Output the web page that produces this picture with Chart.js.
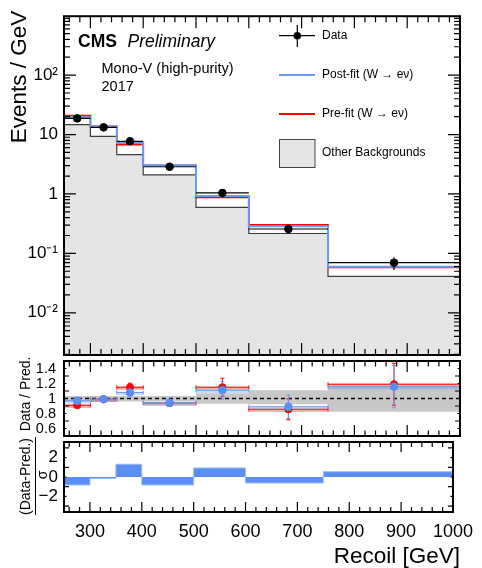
<!DOCTYPE html>
<html lang="en">
<head>
<meta charset="utf-8">
<title>Mono-V recoil (W to e nu control region)</title>
<script src="https://cdn.jsdelivr.net/npm/chart.js@4.4.0/dist/chart.umd.min.js"></script>
<style>
  body { margin: 0; background: #fff; }
  #wrap { position: relative; width: 482px; height: 568px; }
  #wrap canvas { position: absolute; left: 0; top: 0; }
</style>
</head>
<body>
<div id="wrap">
  <canvas id="mainPlot" width="482" height="568"></canvas>
  <canvas id="ratioPlot" width="482" height="568"></canvas>
  <canvas id="pullPlot" width="482" height="568"></canvas>
</div>
<script>
// ---- values ----
const binEdges   = [250, 300, 350, 400, 500, 600, 750, 1000];
const binCenters = [275, 325, 375, 450, 550, 675, 875];

// events / GeV
const dataVals  = [18.7, 13.2, 7.7, 2.87, 1.04, 0.257, 0.0697];
const dataErrUp = [0.6, 0.5, 0.4, 0.17, 0.1, 0.045, 0.016];
const dataErrDn = [0.6, 0.5, 0.4, 0.17, 0.1, 0.045, 0.017];
const postFit   = [19.5, 13.6, 7.2, 3.05, 0.92, 0.285, 0.0598];
const preFit    = [20.8, 13.7, 6.75, 3.05, 0.87, 0.302, 0.0582];
const otherBkg  = [14.7, 9.3, 4.6, 2.1, 0.594, 0.216, 0.041];

// data / prediction
const ratioPre      = [0.91, 0.99, 1.15, 0.94, 1.15, 0.856, 1.19];
const ratioPreErr   = [0.03, 0.03, 0.055, 0.045, 0.12, 0.14, 0.28];
const ratioPost     = [0.97, 0.99, 1.08, 0.944, 1.11, 0.89, 1.157];
const ratioPostErr  = [0.03, 0.03, 0.05, 0.045, 0.115, 0.155, 0.28];
const bandUp        = [1.035, 1.035, 1.035, 1.035, 1.07, 1.11, 1.155];
const bandDn        = [0.96, 0.96, 0.96, 0.96, 0.93, 0.923, 0.825];

// (data - pred) / sigma
const pullVals = [-0.82, -0.15, 1.31, -0.82, 0.93, -0.62, 0.55];

// tick labels
const xMajorTicks  = [300, 400, 500, 600, 700, 800, 900, 1000];
const yMainTicks   = [0.01, 0.1, 1, 10, 100];
const yMainLabels  = ['10\u207B\u00B2', '10\u207B\u00B9', '1', '10', '10\u00B2'];
const yRatioTicks  = [0.6, 0.8, 1, 1.2, 1.4];
const yRatioLabels = ['0.6', '0.8', '1', '1.2', '1.4'];
const yPullTicks   = [-2, 0, 2];
const yPullLabels  = ['\u22122', '0', '2'];

const BLUE = '#6a9bf4';
const BLUE_DARK = '#5b8ef2';
const RED = '#ff0000';
const FONT = "'Liberation Sans', Helvetica, Arial, sans-serif";

Chart.defaults.font.family = FONT;
Chart.defaults.color = '#000';

// histogram as step line: one point per lower edge + closing point
function stepPoints(vals) {
  const pts = vals.map((v, i) => ({ x: binEdges[i], y: v }));
  pts.push({ x: binEdges[binEdges.length - 1], y: vals[vals.length - 1] });
  return pts;
}
function centerPoints(vals) {
  return vals.map((v, i) => ({ x: binCenters[i], y: v }));
}

// tick mark lists [value, length]
function xTickList(major, minor) {
  const list = [];
  for (let v = 260; v < 1000; v += 20) {
    list.push([v, v % 100 === 0 ? major : minor]);
  }
  return list;
}
function logTickList(lo, hi, major, minor) {
  const list = [];
  for (let n = -3; n <= 2; n++) {
    for (let k = 1; k <= 9; k++) {
      const v = k * Math.pow(10, n);
      if (v > lo && v < hi) list.push([v, k === 1 ? major : minor]);
    }
  }
  return list;
}
function linTickList(lo, hi, step, every, major, minor) {
  const list = [];
  const n = Math.round((hi - lo) / step);
  for (let i = 0; i <= n; i++) {
    const v = lo + i * step;
    list.push([v, i % every === 0 ? major : minor]);
  }
  return list;
}

// ---- plugins (ROOT style frame, error bars, text) ----
function frameTicks(xTicks, yTicks) {
  return {
    id: 'frameTicks',
    afterDraw(chart) {
      const ctx = chart.ctx, a = chart.chartArea;
      const xs = chart.scales.x, ys = chart.scales.y;
      ctx.save();
      ctx.strokeStyle = '#000';
      ctx.lineWidth = 1.2;
      ctx.beginPath();
      xTicks.forEach(([v, len]) => {
        const p = xs.getPixelForValue(v);
        ctx.moveTo(p, a.bottom); ctx.lineTo(p, a.bottom - len);
        ctx.moveTo(p, a.top); ctx.lineTo(p, a.top + len);
      });
      yTicks.forEach(([v, len]) => {
        const p = ys.getPixelForValue(v);
        ctx.moveTo(a.left, p); ctx.lineTo(a.left + len, p);
        ctx.moveTo(a.right, p); ctx.lineTo(a.right - len, p);
      });
      ctx.stroke();
      ctx.lineWidth = 2;
      ctx.strokeRect(a.left, a.top, a.right - a.left, a.bottom - a.top);
      ctx.restore();
    }
  };
}

function errorBars(afterIndex, sets) {
  return {
    id: 'errorBars',
    afterDatasetDraw(chart, args) {
      if (args.index !== afterIndex) return;
      const ctx = chart.ctx, a = chart.chartArea;
      const xs = chart.scales.x, ys = chart.scales.y;
      ctx.save();
      ctx.beginPath();
      ctx.rect(a.left, a.top, a.right - a.left, a.bottom - a.top);
      ctx.clip();
      sets.forEach(s => {
        s.vals.forEach((v, i) => {
          const xl = xs.getPixelForValue(binEdges[i]);
          const xr = xs.getPixelForValue(binEdges[i + 1]);
          const xc = xs.getPixelForValue(binCenters[i]);
          const yc = ys.getPixelForValue(v);
          const yt = ys.getPixelForValue(v + s.up[i]);
          const yb = ys.getPixelForValue(v - s.dn[i]);
          if (s.halo) {
            ctx.strokeStyle = s.halo;
            ctx.lineWidth = 3.5;
            ctx.beginPath(); ctx.moveTo(xl, yc + 1); ctx.lineTo(xr, yc + 1); ctx.stroke();
          }
          ctx.strokeStyle = s.color;
          ctx.lineWidth = s.width;
          ctx.beginPath();
          ctx.moveTo(xl, yc); ctx.lineTo(xr, yc);
          ctx.moveTo(xc, yt); ctx.lineTo(xc, yb);
          if (s.cap) {
            ctx.moveTo(xl, yc - s.cap); ctx.lineTo(xl, yc + s.cap);
            ctx.moveTo(xr, yc - s.cap); ctx.lineTo(xr, yc + s.cap);
            ctx.moveTo(xc - s.cap, yt); ctx.lineTo(xc + s.cap, yt);
            ctx.moveTo(xc - s.cap, yb); ctx.lineTo(xc + s.cap, yb);
          }
          ctx.stroke();
        });
      });
      ctx.restore();
    }
  };
}

function textLayer(items, extra) {
  return {
    id: 'textLayer',
    afterDraw(chart) {
      const ctx = chart.ctx;
      items.forEach(t => {
        ctx.save();
        ctx.font = t.font;
        ctx.fillStyle = '#000';
        ctx.textAlign = t.align || 'left';
        ctx.textBaseline = t.baseline || 'alphabetic';
        ctx.translate(t.x, t.y);
        if (t.rotate) ctx.rotate(-Math.PI / 2);
        ctx.fillText(t.text, 0, 0);
        ctx.restore();
      });
      if (extra) extra(ctx);
    }
  };
}

function drawLegend(ctx) {
  ctx.save();
  // data marker with cross
  ctx.strokeStyle = '#000';
  ctx.lineWidth = 1.2;
  ctx.beginPath();
  ctx.moveTo(279, 35.7); ctx.lineTo(315, 35.7);
  ctx.moveTo(297.3, 25); ctx.lineTo(297.3, 47);
  ctx.stroke();
  ctx.fillStyle = '#000';
  ctx.beginPath(); ctx.arc(297.3, 35.7, 3.8, 0, Math.PI * 2); ctx.fill();
  // post-fit
  ctx.strokeStyle = BLUE; ctx.lineWidth = 2;
  ctx.beginPath(); ctx.moveTo(279, 75); ctx.lineTo(315, 75); ctx.stroke();
  // pre-fit
  ctx.strokeStyle = RED; ctx.lineWidth = 2;
  ctx.beginPath(); ctx.moveTo(279, 114); ctx.lineTo(315, 114); ctx.stroke();
  // other backgrounds
  ctx.fillStyle = '#e5e5e5';
  ctx.fillRect(279.5, 139.5, 35.5, 28);
  ctx.strokeStyle = '#444'; ctx.lineWidth = 1;
  ctx.strokeRect(279.5, 139.5, 35.5, 28);
  ctx.restore();
}

// ---- main panel ----
const yMainMin = 0.00195, yMainMax = 980;
new Chart(document.getElementById('mainPlot'), {
  type: 'line',
  data: {
    datasets: [
      { label: 'Data', data: centerPoints(dataVals), showLine: false,
        pointRadius: 3.8, pointBackgroundColor: '#000', pointBorderColor: '#000', order: 0 },
      { label: 'Post-fit (W \u2192 e\u03BD)', data: stepPoints(postFit), stepped: true,
        borderColor: BLUE, borderWidth: 2, pointRadius: 0, fill: false, order: 1 },
      { label: 'Pre-fit (W \u2192 e\u03BD)', data: stepPoints(preFit), stepped: true,
        borderColor: RED, borderWidth: 1.6, pointRadius: 0, fill: false, order: 2 },
      { label: 'Other Backgrounds', data: stepPoints(otherBkg), stepped: true,
        borderColor: '#3c3c3c', borderWidth: 1.2, backgroundColor: '#e5e5e5',
        pointRadius: 0, fill: 'start', order: 3 }
    ]
  },
  options: {
    responsive: false,
    animation: false,
    events: [],
    layout: { padding: { left: 0, right: 22, top: 10, bottom: 213 } },
    scales: {
      x: { type: 'linear', min: 250, max: 1000, display: false },
      y: {
        type: 'logarithmic', min: yMainMin, max: yMainMax,
        grid: { display: false, drawTicks: false }, border: { display: false },
        afterFit: s => { s.width = 64; },
        afterBuildTicks: s => { s.ticks = yMainTicks.map(v => ({ value: v })); },
        ticks: { font: { size: 17 }, padding: 6, autoSkip: false,
                 callback: (v, i) => yMainLabels[i] }
      }
    },
    plugins: { legend: { display: false }, tooltip: { enabled: false } }
  },
  plugins: [
    errorBars(1, [{ vals: dataVals, up: dataErrUp, dn: dataErrDn, color: '#000', width: 1.2 }]),
    frameTicks(xTickList(12, 6), logTickList(yMainMin, yMainMax, 12, 6)),
    textLayer([
      { text: 'CMS', x: 78, y: 46.5, font: 'bold 17.5px ' + FONT },
      { text: 'Preliminary', x: 127.5, y: 46.5, font: 'italic 17.5px ' + FONT },
      { text: 'Mono-V (high-purity)', x: 101.5, y: 73.3, font: '14.5px ' + FONT },
      { text: '2017', x: 101.5, y: 90.7, font: '14.5px ' + FONT },
      { text: 'Data', x: 322, y: 35.7, font: '12px ' + FONT, baseline: 'middle' },
      { text: 'Post-fit (W \u2192 e\u03BD)', x: 322, y: 75, font: '12px ' + FONT, baseline: 'middle' },
      { text: 'Pre-fit (W \u2192 e\u03BD)', x: 322, y: 114, font: '12px ' + FONT, baseline: 'middle' },
      { text: 'Other Backgrounds', x: 322, y: 153, font: '12px ' + FONT, baseline: 'middle' },
      { text: 'Events / GeV', x: 20, y: 77, font: '22.5px ' + FONT, align: 'center', baseline: 'middle', rotate: true }
    ], drawLegend)
  ]
});

// ---- ratio panel ----
new Chart(document.getElementById('ratioPlot'), {
  type: 'line',
  data: {
    datasets: [
      { label: 'band up', data: stepPoints(bandUp), stepped: true, borderWidth: 0,
        pointRadius: 0, fill: false, order: 6 },
      { label: 'Uncertainty', data: stepPoints(bandDn), stepped: true, borderWidth: 0,
        pointRadius: 0, fill: '-1', backgroundColor: '#c8c8c8', order: 5 },
      { label: 'unity', data: [{ x: 250, y: 1 }, { x: 1000, y: 1 }], borderColor: '#000',
        borderWidth: 1.5, borderDash: [4, 3], pointRadius: 0, fill: false, order: 4 },
      { label: 'Pre-fit', data: centerPoints(ratioPre), showLine: false, pointRadius: 3.6,
        pointBackgroundColor: RED, pointBorderColor: RED, order: 2 },
      { label: 'Post-fit', data: centerPoints(ratioPost), showLine: false, pointRadius: 3.8,
        pointBackgroundColor: BLUE_DARK, pointBorderColor: BLUE_DARK, order: 1 }
    ]
  },
  options: {
    responsive: false,
    animation: false,
    events: [],
    layout: { padding: { left: 0, right: 22, top: 361, bottom: 132 } },
    scales: {
      x: { type: 'linear', min: 250, max: 1000, display: false },
      y: {
        type: 'linear', min: 0.5, max: 1.5,
        grid: { display: false, drawTicks: false }, border: { display: false },
        afterFit: s => { s.width = 64; },
        afterBuildTicks: s => { s.ticks = yRatioTicks.map(v => ({ value: v })); },
        ticks: { font: { size: 14.5 }, padding: 8, autoSkip: false,
                 callback: (v, i) => yRatioLabels[i] }
      }
    },
    plugins: { legend: { display: false }, tooltip: { enabled: false } }
  },
  plugins: [
    errorBars(2, [
      { vals: ratioPre, up: ratioPreErr, dn: ratioPreErr, color: RED, width: 1,
        halo: 'rgba(255,0,0,0.3)', cap: 2 },
      { vals: ratioPost, up: ratioPostErr, dn: ratioPostErr, color: BLUE, width: 1,
        halo: 'rgba(106,155,244,0.35)', cap: 2 }
    ]),
    frameTicks(xTickList(11, 5.5), linTickList(0.5, 1.5, 0.1, 2, 5, 2.5).filter(t => t[0] > 0.55 && t[0] < 1.45)),
    textLayer([
      { text: 'Data / Pred.', x: 26, y: 394, font: '14px ' + FONT, align: 'center', baseline: 'middle', rotate: true }
    ])
  ]
});

// ---- pull panel ----
new Chart(document.getElementById('pullPlot'), {
  type: 'line',
  data: {
    datasets: [
      { label: 'Pull', data: stepPoints(pullVals), stepped: true, borderColor: '#9dbdf7',
        borderWidth: 1, backgroundColor: BLUE_DARK, pointRadius: 0, fill: 'origin' }
    ]
  },
  options: {
    responsive: false,
    animation: false,
    events: [],
    layout: { padding: { left: 0, right: 22, top: 442, bottom: 0 } },
    scales: {
      x: {
        type: 'linear', min: 250, max: 1000,
        grid: { display: false, drawTicks: false }, border: { display: false },
        afterFit: s => { s.height = 56; },
        afterBuildTicks: s => { s.ticks = xMajorTicks.map(v => ({ value: v })); },
        ticks: { font: { size: 18 }, padding: 9, maxRotation: 0, autoSkip: false,
                 callback: v => String(v) }
      },
      y: {
        type: 'linear', min: -3.6, max: 3.6,
        grid: { display: false, drawTicks: false }, border: { display: false },
        afterFit: s => { s.width = 64; },
        afterBuildTicks: s => { s.ticks = yPullTicks.map(v => ({ value: v })); },
        ticks: { font: { size: 17 }, padding: 6, autoSkip: false,
                 callback: (v, i) => yPullLabels[i] }
      }
    },
    plugins: { legend: { display: false }, tooltip: { enabled: false } }
  },
  plugins: [
    frameTicks(xTickList(10, 5), linTickList(-3, 3, 1, 2, 5, 2.5)),
    textLayer([
      { text: '(Data-Pred.)', x: 26, y: 476.5, font: '14px ' + FONT, align: 'center', baseline: 'middle', rotate: true },
      { text: '\u03C3', x: 43, y: 475, font: '14px ' + FONT, align: 'center', baseline: 'middle', rotate: true },
      { text: 'Recoil [GeV]', x: 460, y: 563, font: '22.5px ' + FONT, align: 'right' }
    ], ctx => {
      ctx.save();
      ctx.strokeStyle = '#000';
      ctx.lineWidth = 1;
      ctx.beginPath(); ctx.moveTo(35.5, 437); ctx.lineTo(35.5, 515); ctx.stroke();
      ctx.restore();
    })
  ]
});
</script>
</body>
</html>
